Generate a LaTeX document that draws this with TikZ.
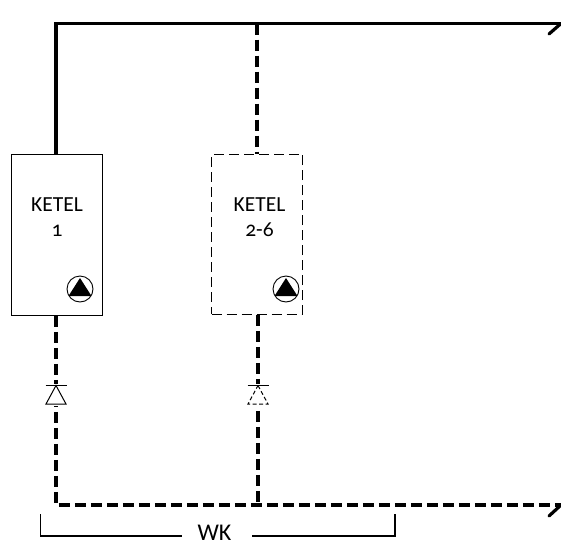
\documentclass[tikz,border=0pt]{standalone}
\usepackage{fontspec}
\setmainfont[Numbers=OldStyle]{Carlito}
\begin{document}
\begin{tikzpicture}[x=1pt,y=-1pt,
  pipe/.style={line width=3.6pt},
  pipedash/.style={line width=3.9pt,dash pattern=on 11pt off 5pt},
  tick/.style={line width=3.2pt,line cap=round},
  boxsolid/.style={draw,line width=1.3pt,minimum width=91pt,minimum height=161pt,inner sep=0pt,anchor=north west},
  boxdash/.style={draw,line width=1.3pt,dash pattern=on 10pt off 5pt,minimum width=91pt,minimum height=160pt,inner sep=0pt,anchor=north west},
  lbl/.style={font=\fontsize{21.5}{25}\selectfont,align=center,inner sep=0pt},
  pumpc/.style={draw,circle,line width=0.9pt,minimum size=26pt,inner sep=0pt},
  brack/.style={line width=1.2pt}]
\useasboundingbox (0,0) rectangle (561,546);
\coordinate (tl) at (56,23.5);
\coordinate (tj) at (257,23.5);
\coordinate (tr) at (561,23.5);
\coordinate (trt) at (549,34);
\coordinate (brt) at (549,516);
\coordinate (trb) at (561,505);
\coordinate (bl) at (56,505);
\coordinate (bj) at (258,505);
\node[boxsolid] (k1) at (10.5,153.5) {};
\node[boxdash] (k2) at (211,153.5) {};
\node[lbl] (t1) at (57,217.5) {KETEL\\1};
\node[lbl] (t2) at (259.5,217.5) {KETEL\\2-6};
\draw[pipe] (tr) -- (tl) -- (k1.north -| tl);
\draw[pipedash] (tj) -- (tj |- k2.north);
\draw[tick] (trt) -- (tr);
\draw[tick] (brt) -- (trb);
\draw[pipedash] (bl |- k1.south) -- (bl) -- (trb);
\draw[pipedash] (bj |- k2.south) -- (bj);
% pumps
\node[pumpc] (p1) at (80,289) {};
\node[pumpc] (p2) at (286,289) {};
\fill (80,278) -- (91.5,296) -- (68.5,296) -- cycle;
\fill (286,278) -- (297.5,296) -- (274.5,296) -- cycle;
% check valves
\fill[white] (44,384) rectangle (68,406);
\fill[white] (246,384) rectangle (270,406);
\draw[line width=1pt] (45.5,385.5) -- (66.5,385.5);
\draw[line width=1pt] (56,385.5) -- (66,404) -- (46,404) -- cycle;
\draw[line width=1pt] (247.5,385.5) -- (268.5,385.5);
\draw[line width=1pt,dash pattern=on 4pt off 2.5pt] (258,385.5) -- (268,404) -- (248,404) -- cycle;
% bracket
\node[font=\fontsize{24}{24}\selectfont,inner sep=0pt] (wk) at (214.5,533) {WK};
\draw[brack] (40.5,514) -- (40.5,536) -- (182,536);
\draw[brack] (252,536) -- (395,536) -- (395,514);
\end{tikzpicture}
\end{document}
